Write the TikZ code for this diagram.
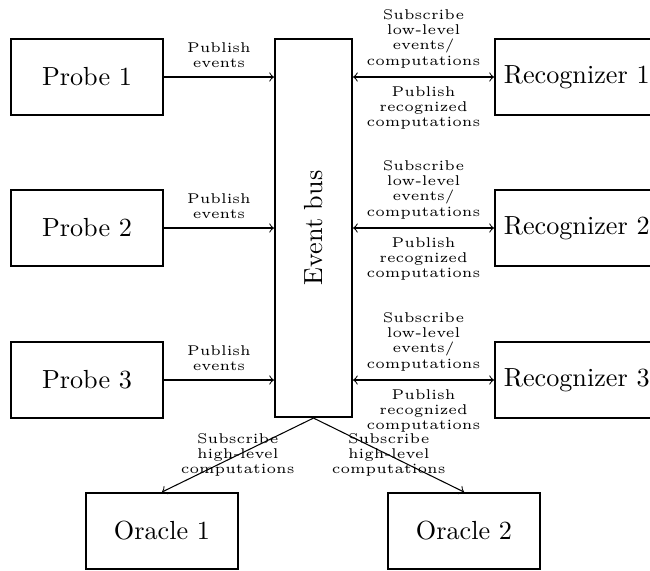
\documentclass[tikz,border=0pt]{standalone}
\begin{document}
\begin{tikzpicture}[x=0.382pt,y=-0.382pt,
  box/.style={draw,line width=0.8pt,minimum width=58pt,minimum height=29pt},
  lbl/.style={font=\fontsize{5.4}{5.8}\selectfont,align=center},
  conn/.style={line width=0.4pt}]
\useasboundingbox (0,0) rectangle (650,570);
\node[box] (p1) at (87,77) {Probe 1};
\node[box] (p2) at (87,228) {Probe 2};
\node[box] (p3) at (87,380) {Probe 3};
\node[draw,line width=0.8pt,minimum width=144.4pt,minimum height=29.4pt,rotate=90] (bus) at (313.5,228) {Event bus};
\node[box,anchor=west] (r1) at (494,77) {Recognizer 1};
\node[box,anchor=west] (r2) at (494,228) {Recognizer 2};
\node[box,anchor=west] (r3) at (494,380) {Recognizer 3};
\node[box] (o1) at (162,531) {Oracle 1};
\node[box] (o2) at (464,531) {Oracle 2};
\foreach \p in {p1,p2,p3}{
  \draw[conn,->] (\p.east) -- node[lbl,above]{Publish\\events} (\p.east -| bus.north);
}
\foreach \r in {r1,r2,r3}{
  \draw[conn,<->] (\r.west -| bus.south) -- node[lbl,above]{Subscribe\\low-level\\events/\\computations} node[lbl,below]{Publish\\recognized\\computations} (\r.west);
}
\draw[conn,->] (bus.west) -- node[lbl]{Subscribe\\high-level\\computations} (o1.north);
\draw[conn,->] (bus.west) -- node[lbl]{Subscribe\\high-level\\computations} (o2.north);
\end{tikzpicture}
\end{document}
